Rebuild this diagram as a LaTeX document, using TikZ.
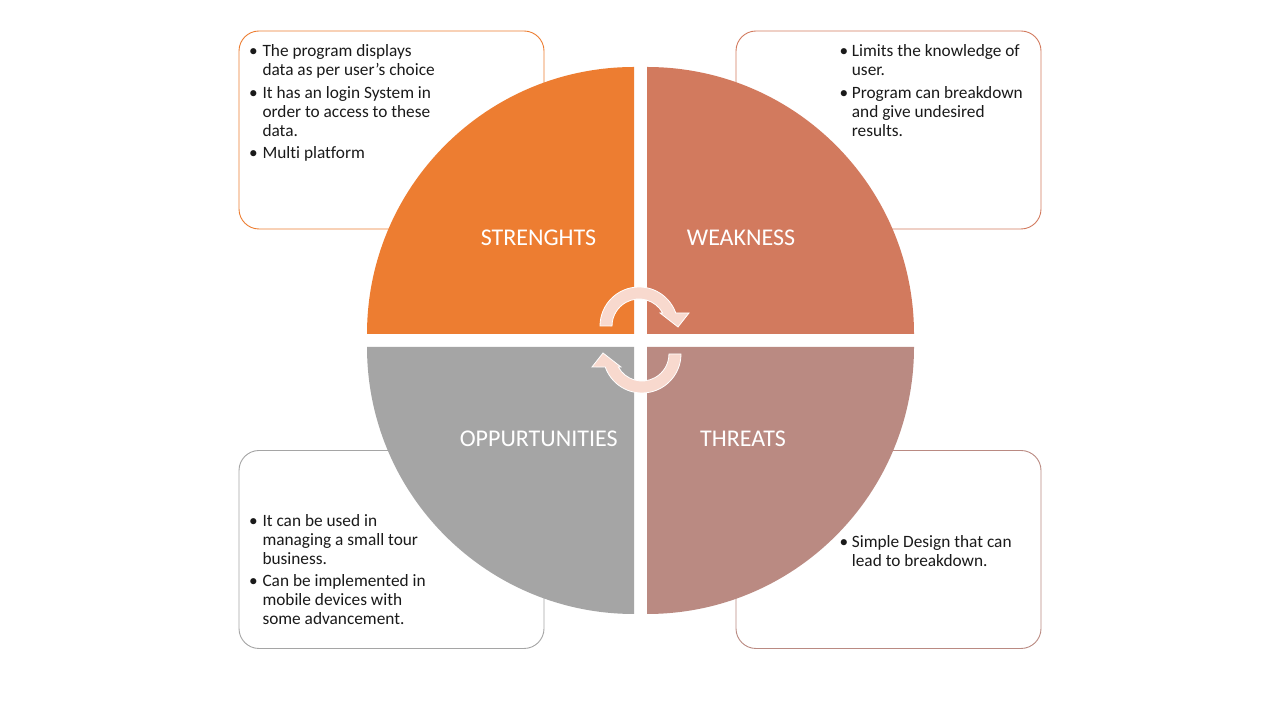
\documentclass[tikz,border=0pt]{standalone}
\usepackage{fontspec}
\setmainfont{Carlito}[Ligatures={NoCommon}]
\definecolor{sCol}{HTML}{ED7D31}
\definecolor{wCol}{HTML}{D27A5E}
\definecolor{tCol}{HTML}{BA8A82}
\definecolor{oCol}{HTML}{A5A5A5}
\definecolor{arrowfill}{HTML}{F8D9CE}
\definecolor{textcol}{HTML}{1A1A1A}
\begin{document}
\begin{tikzpicture}[x=1pt,y=1pt,
  swbox/.style={draw, line width=0.9pt, fill=white, rounded corners=20pt,
    minimum width=305pt, minimum height=198pt, inner sep=0pt, outer sep=0pt},
  lbl/.style={text=white, font=\fontsize{24}{26}\selectfont, anchor=base, inner sep=0pt},
  txt/.style={font=\fontsize{17.3}{19}\selectfont, anchor=base west, inner sep=0pt, text=textcol},
  bul/.style={font=\fontsize{17.3}{19}\selectfont, anchor=base, inner sep=0pt, text=textcol},
  carrow/.style={fill=arrowfill, draw=white, line width=0.8pt, line join=miter}]
\useasboundingbox[fill=white] (0,0) rectangle (1280,720);

% boxes
\node[swbox, draw=sCol] (tlbox) at (391.5,590) {};
\node[swbox, draw=wCol] (trbox) at (888.5,590) {};
\node[swbox, draw=oCol] (blbox) at (391.5,170.5) {};
\node[swbox, draw=tCol] (brbox) at (888.5,170.5) {};

% quadrants
\fill[sCol] (634,386) -- ++(-267,0) arc[start angle=180, end angle=90, radius=267] -- cycle;
\fill[wCol] (647,386) -- ++(0,267) arc[start angle=90, end angle=0, radius=267] -- cycle;
\fill[tCol] (647,373) -- ++(267,0) arc[start angle=0, end angle=-90, radius=267] -- cycle;
\fill[oCol] (634,373) -- ++(0,-267) arc[start angle=270, end angle=180, radius=267] -- cycle;

% circular arrows
\filldraw[carrow] (600,394) arc[start angle=180, end angle=19.5, radius=39]
  -- (689,407) -- (678,393) -- (660,407) -- (662.7,407)
  arc[start angle=28.8, end angle=180, radius=27] -- cycle;
\begin{scope}[rotate around={180:(640.5,380)}]
\filldraw[carrow] (600,394) arc[start angle=180, end angle=19.5, radius=39]
  -- (689,407) -- (678,393) -- (660,407) -- (662.7,407)
  arc[start angle=28.8, end angle=180, radius=27] -- cycle;
\end{scope}

% quadrant labels
\node[lbl] (lS) at (538.5,474) {STRENGHTS};
\node[lbl] (lW) at (741,474) {WEAKNESS};
\node[lbl] (lO) at (538.7,273.3) {OPPURTUNITIES};
\node[lbl] (lT) at (743,273.3) {THREATS};

% top-left text
\node[bul] (b1) at (253.5,663) {\textbullet};
\node[txt] (t1) at (262.3,663) {The program displays};
\node[txt] (t2) at (262.3,644) {data as per user’s choice};
\node[bul] (b2) at (253.5,621) {\textbullet};
\node[txt] (t3) at (262.3,621) {It has an login System in};
\node[txt] (t4) at (262.3,602) {order to access to these};
\node[txt] (t5) at (262.3,583) {data.};
\node[bul] (b3) at (253.5,561) {\textbullet};
\node[txt] (t6) at (262.3,561) {Multi platform};

% top-right text
\node[bul] (b4) at (844,663) {\textbullet};
\node[txt] (t7) at (851.7,663) {Limits the knowledge of};
\node[txt] (t8) at (851.7,644) {user.};
\node[bul] (b5) at (844,621) {\textbullet};
\node[txt] (t9) at (851.7,621) {Program can breakdown};
\node[txt] (t10) at (851.7,602) {and give undesired};
\node[txt] (t11) at (851.7,583) {results.};

% bottom-left text
\node[bul] (b6) at (253.5,193) {\textbullet};
\node[txt] (t12) at (262.3,193) {It can be used in};
\node[txt] (t13) at (262.3,174) {managing a small tour};
\node[txt] (t14) at (262.3,155) {business.};
\node[bul] (b7) at (253.5,133) {\textbullet};
\node[txt] (t15) at (262.3,133) {Can be implemented in};
\node[txt] (t16) at (262.3,114) {mobile devices with};
\node[txt] (t17) at (262.3,95) {some advancement.};

% bottom-right text
\node[bul] (b8) at (844,172) {\textbullet};
\node[txt] (t18) at (851.7,172) {Simple Design that can};
\node[txt] (t19) at (851.7,153) {lead to breakdown.};
\end{tikzpicture}
\end{document}
